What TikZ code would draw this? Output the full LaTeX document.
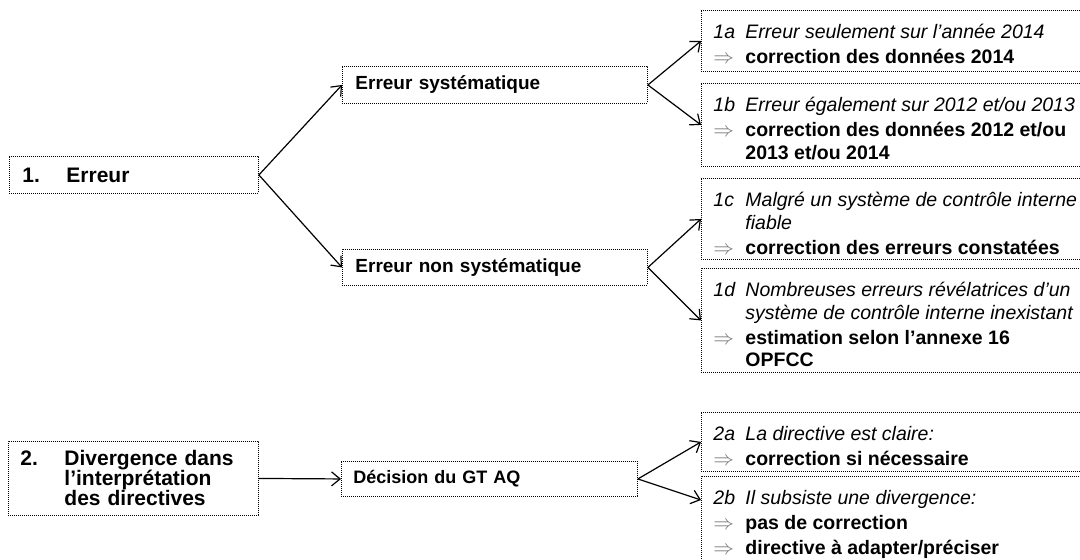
\documentclass[tikz,border=0pt]{standalone}
\usepackage{fontspec}
\setmainfont{Liberation Sans}
\usetikzlibrary{arrows.meta}
\newcommand{\caselbl}[1]{\strut\makebox[32bp][l]{#1}}
\newcommand{\casegoto}{\textcolor{black!55}{$\Rightarrow$}}
\newcommand{\casetext}[2]{\parbox[c][#1][t]{390bp}{\fontsize{19.5bp}{22.5bp}\selectfont
  \leftskip=12bp\parskip=2.5bp\vspace*{10bp}#2}}
\begin{document}
\begin{tikzpicture}[>={Straight Barb[length=8.5bp,width=14bp]},line join=bevel,
  box/.style={draw=black,line width=0.9bp,dash pattern=on 1bp off 1bp,anchor=north west,inner ysep=0pt,align=left},
  casebox/.style={draw=black,line width=0.9bp,dash pattern=on 1bp off 1bp,anchor=north west,inner sep=0pt},
  conn/.style={black,line width=1.2bp,->}]
%%
\clip (0bp,0bp) rectangle (1080bp,560bp);
\node (node_err) at (9bp,404bp) [box,text width=223bp,inner xsep=13bp,minimum height=37bp,font=\fontsize{21bp}{24bp}\selectfont\bfseries] {\makebox[44bp][l]{1.}Erreur};
  \node (node_sys) at (342bp,494bp) [box,text width=279bp,inner xsep=13bp,minimum height=37bp,font=\fontsize{19bp}{22bp}\selectfont\bfseries] {Erreur systématique};
  \node (node_nonsys) at (342bp,311bp) [box,text width=279bp,inner xsep=13bp,minimum height=36bp,font=\fontsize{19bp}{22bp}\selectfont\bfseries] {Erreur non systématique};
  \node (node_1a) at (701bp,550bp) [casebox] {\casetext{61bp}{%
    \caselbl{\textit{1a}}\textit{Erreur seulement sur l’année 2014}\par
    \caselbl{\casegoto}\textbf{correction des données 2014}}};
  \node (node_1b) at (701bp,477bp) [casebox] {\casetext{83bp}{%
    \caselbl{\textit{1b}}\textit{Erreur également sur 2012 et/ou 2013}\par
    \caselbl{\casegoto}\textbf{correction des données 2012 et/ou}\\
    \caselbl{}\textbf{2013 et/ou 2014}}};
  \node (node_1c) at (701bp,382bp) [casebox] {\casetext{81bp}{%
    \caselbl{\textit{1c}}\textit{Malgré un système de contrôle interne}\\
    \caselbl{}\textit{fiable}\par
    \caselbl{\casegoto}\textbf{correction des erreurs constatées}}};
  \node (node_1d) at (701bp,292bp) [casebox] {\casetext{104bp}{%
    \caselbl{\textit{1d}}\textit{Nombreuses erreurs révélatrices d’un}\\
    \caselbl{}\textit{système de contrôle interne inexistant}\par
    \caselbl{\casegoto}\textbf{estimation selon l’annexe 16}\\
    \caselbl{}\textbf{OPFCC}}};
  \node (node_div) at (8bp,119bp) [box,text width=226bp,inner xsep=12bp,minimum height=74bp,font=\fontsize{21bp}{20bp}\selectfont\bfseries] {\makebox[44bp][l]{2.}Divergence dans\\
    \hspace*{44bp}l’interprétation\\
    \hspace*{44bp}des directives};
  \node (node_dec) at (341bp,99bp) [box,text width=272bp,inner xsep=12bp,minimum height=35bp,font=\fontsize{18bp}{22bp}\selectfont\bfseries] {Décision du GT AQ};
  \node (node_2a) at (701bp,148bp) [casebox] {\casetext{59bp}{%
    \caselbl{\textit{2a}}\textit{La directive est claire:}\par
    \caselbl{\casegoto}\textbf{correction si nécessaire}}};
  \node (node_2b) at (701bp,84bp) [casebox] {\casetext{100bp}{%
    \caselbl{\textit{2b}}\textit{Il subsiste une divergence:}\par
    \caselbl{\casegoto}\textbf{pas de correction}\par
    \caselbl{\casegoto}\textbf{directive à adapter/préciser}}};
  \draw [conn] (node_err.east) -- (node_sys.west);
  \draw [conn] (node_err.east) -- (node_nonsys.west);
  \draw [conn] (node_sys.east) -- (node_1a.west);
  \draw [conn] (node_sys.east) -- (node_1b.west);
  \draw [conn] (node_nonsys.east) -- (node_1c.west);
  \draw [conn] (node_nonsys.east) -- (node_1d.west);
  \draw [conn] (node_div.east) -- (node_dec.west);
  \draw [conn] (node_dec.east) -- (node_2a.west);
  \draw [conn] (node_dec.east) -- ([yshift=-24bp]node_2b.north west);
%
\end{tikzpicture}
\end{document}
